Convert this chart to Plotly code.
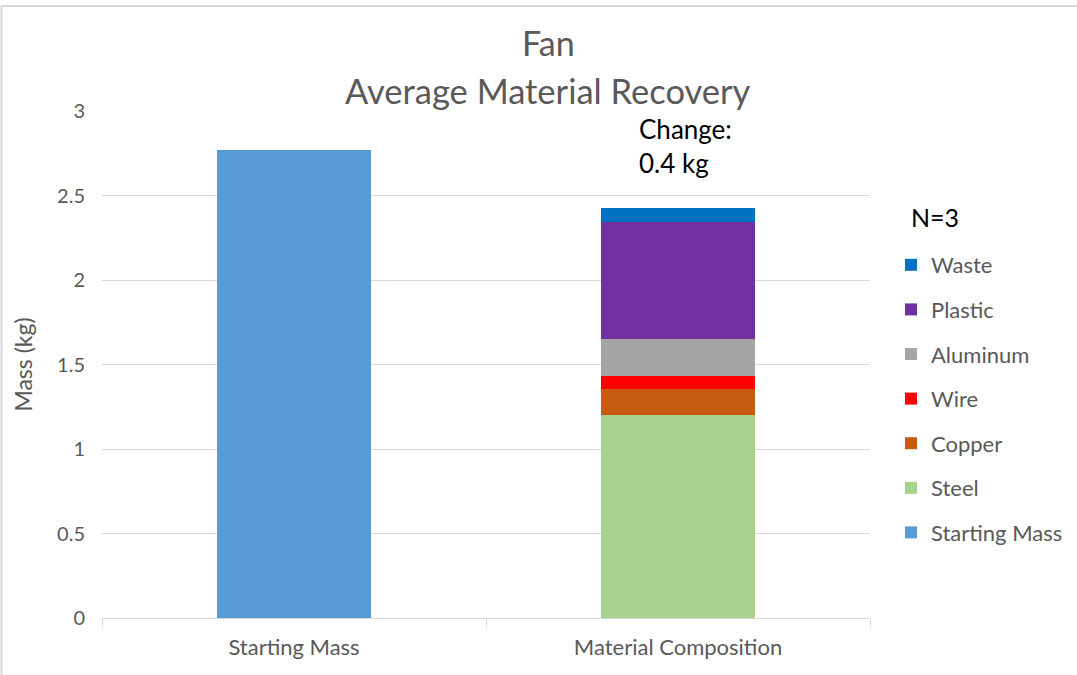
import plotly.graph_objects as go

categories = ["Starting Mass", "Material Composition"]
starting_mass = 2.77
materials = ["Steel", "Copper", "Wire", "Aluminum", "Plastic", "Waste"]
material_values = [1.20, 0.155, 0.077, 0.22, 0.69, 0.083]
material_colors = ["#A9D18E", "#C55A11", "#FF0000", "#A5A5A5", "#7030A0", "#0070C0"]
start_color = "#5B9BD5"
y_ticks = [0, 0.5, 1, 1.5, 2, 2.5, 3]
change_text = "Change:<br>0.4 kg"
legend_title = "N=3"

FONT = "Lato"
GREY = "#595959"


def px_x(p):
    return (p - 102) / 768


def px_y(p):
    return (618 - p) / 507


fig = go.Figure()
fig.add_trace(go.Bar(
    x=[categories[0]], y=[starting_mass], name="Starting Mass",
    marker=dict(color=start_color, line=dict(width=0)),
    legendgroup="Starting Mass", legendrank=7,
))
for i, (m, v, c) in enumerate(zip(materials, material_values, material_colors)):
    fig.add_trace(go.Bar(
        x=[categories[1]], y=[v], name=m,
        marker=dict(color=c, line=dict(width=0)),
        legendgroup=m, legendrank=6 - i,
    ))

fig.update_layout(
    width=1077, height=675,
    barmode="stack", bargap=0.6,
    paper_bgcolor="white", plot_bgcolor="white",
    margin=dict(l=102, r=207, t=111, b=57, autoexpand=False),
    font=dict(family=FONT, color=GREY, size=18),
    showlegend=True,
    legend=dict(
        x=px_x(891), xanchor="left", y=px_y(244), yanchor="top",
        font=dict(size=22, color=GREY),
        traceorder="grouped", tracegroupgap=13,
        itemwidth=30,
    ),
)
fig.update_xaxes(
    showline=True, linecolor="#D9D9D9", linewidth=1,
    ticks="outside", tickson="boundaries", ticklen=8, tickcolor="#D9D9D9",
    tickfont=dict(size=22, color=GREY),
    ticklabelstandoff=10,
    showgrid=False,
)
fig.update_yaxes(
    range=[0, 3], tickvals=y_ticks, ticktext=[str(t) for t in y_ticks],
    showgrid=True, gridcolor="#D9D9D9", gridwidth=1,
    zeroline=False, showline=False,
    ticklabelstandoff=16,
    tickfont=dict(size=20, color=GREY),
    title=dict(text="Mass (kg)", font=dict(size=23, color=GREY), standoff=18),
)

# Title as two lines
fig.add_annotation(text="Fan", xref="paper", yref="paper",
                   x=px_x(548), y=px_y(43),
                   xanchor="center", yanchor="middle", showarrow=False,
                   font=dict(size=34, color=GREY))
fig.add_annotation(text="Average Material Recovery", xref="paper", yref="paper",
                   x=px_x(548), y=px_y(90),
                   xanchor="center", yanchor="middle", showarrow=False,
                   font=dict(size=34.5, color=GREY))

# Legend heading
fig.add_annotation(text=legend_title, xref="paper", yref="paper",
                   x=px_x(909), y=px_y(217),
                   xanchor="left", yanchor="middle", showarrow=False,
                   font=dict(size=25, color="black"))

# Change annotation
fig.add_annotation(text=change_text, x=categories[1], y=2.795, xref="x", yref="y",
                   xanchor="left", yanchor="middle", xshift=-41, align="left",
                   showarrow=False, font=dict(size=26, color="black"))

# Outer frame
fig.add_shape(type="line", xref="paper", yref="paper",
              x0=px_x(1), x1=px_x(1077), y0=px_y(6), y1=px_y(6),
              line=dict(color="#D9D9D9", width=2))
fig.add_shape(type="line", xref="paper", yref="paper",
              x0=px_x(1.5), x1=px_x(1.5), y0=px_y(6), y1=px_y(675),
              line=dict(color="#D9D9D9", width=2))

fig.write_html("out.html")
